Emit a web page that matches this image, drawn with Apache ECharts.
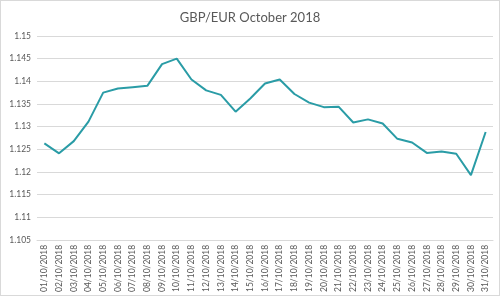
<!DOCTYPE html>
<html>
<head>
<meta charset="utf-8">
<script src="https://cdn.jsdelivr.net/npm/echarts@6/dist/echarts.min.js"></script>
<style>
html,body{margin:0;padding:0;background:#fff;}
#chart{width:498px;height:294px;border:1px solid #d9d9d9;}
</style>
</head>
<body>
<div id="chart"></div>
<script>
const dates = ["01/10/2018","02/10/2018","03/10/2018","04/10/2018","05/10/2018","06/10/2018","07/10/2018","08/10/2018","09/10/2018","10/10/2018","11/10/2018","12/10/2018","13/10/2018","14/10/2018","15/10/2018","16/10/2018","17/10/2018","18/10/2018","19/10/2018","20/10/2018","21/10/2018","22/10/2018","23/10/2018","24/10/2018","25/10/2018","26/10/2018","27/10/2018","28/10/2018","29/10/2018","30/10/2018","31/10/2018"];
const rates = [1.1263,1.1241,1.1268,1.1311,1.1375,1.1384,1.1387,1.1390,1.1438,1.1450,1.1404,1.1380,1.1370,1.1333,1.1362,1.1395,1.1404,1.1372,1.1353,1.1343,1.1344,1.1309,1.1316,1.1307,1.1273,1.1265,1.1242,1.1245,1.1240,1.1193,1.1288];
const yMin = 1.105, yMax = 1.15, yStep = 0.005;

const chart = echarts.init(document.getElementById('chart'));
chart.setOption({
  animation: false,
  title: {
    text: 'GBP/EUR October 2018',
    left: 'center',
    top: 5,
    textStyle: {fontFamily: 'Lato', fontSize: 13, fontWeight: 'normal', color: '#595959'}
  },
  grid: {left: 36, right: 6, top: 35, bottom: 52},
  xAxis: {
    type: 'category',
    data: dates,
    boundaryGap: true,
    axisLine: {lineStyle: {color: '#d9d9d9'}},
    axisTick: {length: 4, lineStyle: {color: '#d9d9d9'}},
    axisLabel: {rotate: 90, fontFamily: 'Lato', fontSize: 8.5, color: '#595959', margin: 5, interval: 0}
  },
  yAxis: {
    type: 'value',
    min: yMin, max: yMax, interval: yStep,
    axisLine: {show: false},
    axisTick: {show: false},
    splitLine: {lineStyle: {color: '#d9d9d9'}},
    axisLabel: {fontFamily: 'Lato', fontSize: 8.5, color: '#595959', margin: 6,
      formatter: v => String(parseFloat(v.toFixed(3)))}
  },
  series: [{
    type: 'line',
    data: rates,
    symbol: 'none',
    lineStyle: {color: '#2a9ca6', width: 2}
  }]
});
</script>
</body>
</html>
